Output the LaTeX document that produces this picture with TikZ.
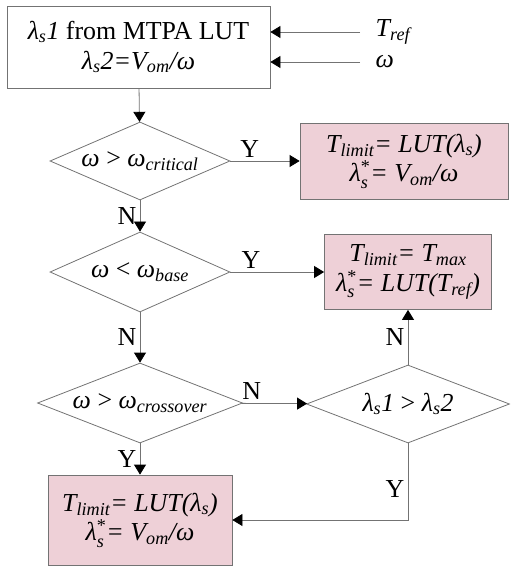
\documentclass[tikz,border=0pt]{standalone}
\usepackage{amsmath}
\usepackage{fontspec}
\setmainfont{Liberation Serif}
\usetikzlibrary{arrows.meta, shapes.geometric}

\definecolor{linegray}{RGB}{115,115,115}
\definecolor{boxpink}{RGB}{238,208,215}
\newcommand{\idx}[1]{\textsubscript{\textit{#1}}}
\newcommand{\lamstar}{\textit{λ}$^{\text{*}}_{\textit{s}}$}

\begin{document}
\begin{tikzpicture}[x=1bp, y=-1bp,
  >={Triangle[length=10bp, width=12bp, color=black]}, line width=0.8pt,
  every node/.style={font=\fontsize{26}{30}\selectfont},
  inbox/.style={draw=linegray, align=center, inner sep=0pt},
  outbox/.style={inbox, fill=boxpink},
  test/.style={draw=linegray, diamond, inner sep=0pt, aspect=2.3},
  flow/.style={draw=linegray, ->}]

  \useasboundingbox (0,0) rectangle (513,569);

  \node[inbox, minimum width=263bp, minimum height=82bp] (start) at (138.5,47)
    {\textit{λ\idx{s}1} from MTPA LUT\\\textit{λ\idx{s}2=V\idx{om}/ω}};
  \node[anchor=west] (tref) at (372,32) {\textit{T\idx{ref}}};
  \node[anchor=west] (w) at (372,62) {\textit{ω}};

  \node[test, minimum width=180bp, minimum height=78bp] (crit) at (140,161)
    {\textit{ω} > \textit{ω}\idx{critical}};
  \node[test, minimum width=180bp, minimum height=80bp] (base) at (140,272)
    {\textit{ω} < \textit{ω}\idx{base}};
  \node[test, minimum width=205bp, minimum height=80bp] (cross) at (140,403)
    {\textit{ω} > \textit{ω}\idx{crossover}};
  \node[test, minimum width=203bp, minimum height=78bp] (cmp) at (408,404)
    {\textit{λ\idx{s}1} > \textit{λ\idx{s}2}};

  \node[outbox, minimum width=208bp, minimum height=76bp] (res1) at (404,161)
    {\textit{T\idx{limit}= LUT(λ\idx{s})}\\\lamstar\textit{= V\idx{om}/ω}};
  \node[outbox, minimum width=167bp, minimum height=75bp] (res2) at (408,272)
    {\textit{T\idx{limit}= T\idx{max}}\\\lamstar\textit{= LUT(T\idx{ref})}};
  \node[outbox, minimum width=184bp, minimum height=90bp] (res3) at (140,520)
    {\textit{T\idx{limit}= LUT(λ\idx{s})}\\\lamstar\textit{= V\idx{om}/ω}};

  \draw[flow] ([xshift=-12bp]tref.west) -- (tref.west -| start.east);
  \draw[flow] ([xshift=-12bp]w.west) -- (w.west -| start.east);
  \draw[flow] (start) -- (crit);
  \draw[flow] (crit) -- (res1) node[pos=0.28, above, black]{Y};
  \draw[flow] (crit) -- (base) node[midway, left, black]{N};
  \draw[flow] (base) -- (base -| res2.west) node[pos=0.22, above, black]{Y};
  \draw[flow] (base) -- (cross) node[midway, left, black]{N};
  \draw[flow] (cross) -- (cmp) node[pos=0.15, above, black]{N};
  \draw[flow] (cmp) -- (res2) node[midway, left, black]{N};
  \draw[flow] (cross) -- (res3) node[midway, left, black]{Y};
  \draw[flow] (cmp.south) |- (res3.east) node[pos=0.3, left, black]{Y};
\end{tikzpicture}
\end{document}
